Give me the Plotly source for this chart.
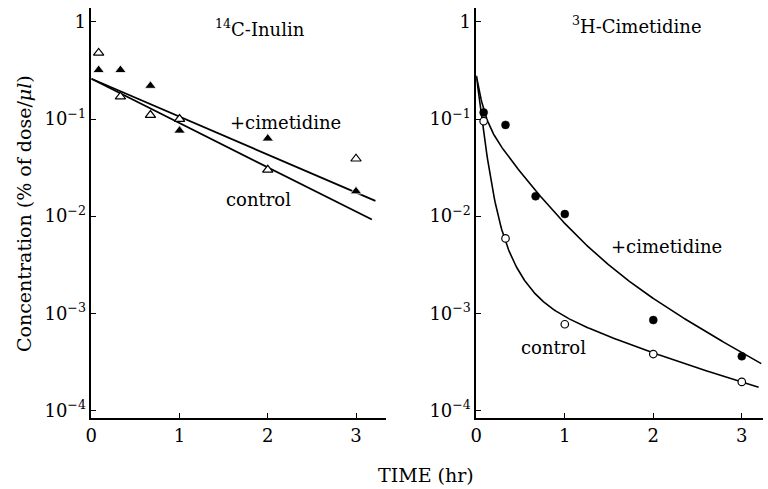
import numpy as np
import plotly.graph_objects as go

# ---- data: plasma concentration (% of dose / ul) vs time (hr) ----
TIME_H = [0.083, 0.33, 0.67, 1.0, 2.0, 3.0]

# 14C-inulin
INU_CIM = [0.32, 0.32, 0.22, 0.076, 0.063, 0.018]
INU_CTRL = [0.48, 0.17, 0.11, 0.10, 0.030, 0.039]

# 3H-cimetidine
CIM_CIM = [0.117, 0.087, 0.016, 0.0105, 0.00085, 0.00036]
CIM_CTRL_T = [0.083, 0.33, 1.0, 2.0, 3.0]
CIM_CTRL = [0.095, 0.0059, 0.00077, 0.00038, 0.000196]

# fitted curves: C(t) = sum(A_i * exp(-k_i * t))
INU_CIM_A, INU_CIM_K = [0.26], [0.90]
INU_CTRL_A, INU_CTRL_K = [0.26], [1.05]
CIM_CIM_A, CIM_CIM_K = [0.166, 0.1016, 0.0121], [18.0, 3.1, 1.15]
CIM_CTRL_A, CIM_CTRL_K = [0.25, 0.025, 0.00133, 0.00112], [18.0, 6.3, 1.61, 0.6]

Y_TICKS = [1e-4, 1e-3, 1e-2, 1e-1, 1]
Y_TICK_TEXT = ["10<sup>−4</sup>", "10<sup>−3</sup>", "10<sup>−2</sup>", "10<sup>−1</sup>", "1"]
X_TICKS = [0, 1, 2, 3]

FONT = "DejaVu Serif"


def model(a, k, t_end):
    t = np.linspace(0, t_end, 300)
    c = np.zeros_like(t)
    for ai, ki in zip(a, k):
        c += ai * np.exp(-ki * t)
    return t, c


fig = go.Figure()

line_style = dict(color="black", width=1.6)

# left panel: inulin
t, c = model(INU_CIM_A, INU_CIM_K, 3.22)
fig.add_trace(go.Scatter(x=t, y=c, mode="lines", line=dict(color="black", width=1.8),
                         xaxis="x", yaxis="y", hoverinfo="skip"))
t, c = model(INU_CTRL_A, INU_CTRL_K, 3.18)
fig.add_trace(go.Scatter(x=t, y=c, mode="lines", line=dict(color="black", width=1.8),
                         xaxis="x", yaxis="y", hoverinfo="skip"))
fig.add_trace(go.Scatter(x=TIME_H, y=INU_CIM, mode="markers", xaxis="x", yaxis="y",
                         marker=dict(symbol="triangle-up", size=10, color="black",
                                     line=dict(color="white", width=0.8))))
fig.add_trace(go.Scatter(x=TIME_H, y=INU_CTRL, mode="markers", xaxis="x", yaxis="y",
                         marker=dict(symbol="triangle-up", size=9, color="white",
                                     line=dict(color="black", width=1.2))))

# right panel: cimetidine
t, c = model(CIM_CIM_A, CIM_CIM_K, 3.22)
fig.add_trace(go.Scatter(x=t, y=c, mode="lines", line=line_style,
                         xaxis="x2", yaxis="y2", hoverinfo="skip"))
t, c = model(CIM_CTRL_A, CIM_CTRL_K, 3.19)
fig.add_trace(go.Scatter(x=t, y=c, mode="lines", line=line_style,
                         xaxis="x2", yaxis="y2", hoverinfo="skip"))
fig.add_trace(go.Scatter(x=TIME_H, y=CIM_CIM, mode="markers", xaxis="x2", yaxis="y2",
                         marker=dict(symbol="circle", size=8, color="black",
                                     line=dict(color="black", width=0.5))))
fig.add_trace(go.Scatter(x=CIM_CTRL_T, y=CIM_CTRL, mode="markers", xaxis="x2", yaxis="y2",
                         marker=dict(symbol="circle", size=7.5, color="white",
                                     line=dict(color="black", width=1.2))))

y_bottom = 69 / 489
y_top = 481 / 489

xaxis_common = dict(
    showline=True, linecolor="black", linewidth=1.6, mirror=False,
    showgrid=False, zeroline=False,
    ticks="inside", ticklen=5, tickwidth=1.2, tickcolor="black",
    tickvals=X_TICKS, ticktext=[str(v) for v in X_TICKS],
    tickfont=dict(family=FONT, size=18, color="black"),
)
yaxis_common = dict(
    type="log", range=[-4.082, 0.144],
    showline=True, linecolor="black", linewidth=1.6, mirror=False,
    showgrid=False, zeroline=False,
    ticks="inside", ticklen=5, tickwidth=1.2, tickcolor="black",
    tickvals=Y_TICKS, ticktext=Y_TICK_TEXT,
    tickfont=dict(family=FONT, size=18, color="black"),
    domain=[y_bottom, y_top],
)

fig.update_layout(
    width=768, height=489,
    margin=dict(l=0, r=0, t=0, b=0),
    paper_bgcolor="white", plot_bgcolor="white",
    showlegend=False,
    font=dict(family=FONT, color="black"),
    xaxis=dict(xaxis_common, domain=[86 / 768, 383 / 768], range=[0, 3.34], anchor="y"),
    yaxis=dict(yaxis_common, anchor="x"),
    xaxis2=dict(xaxis_common, domain=[474 / 768, 763 / 768], range=[0, 3.24], anchor="y2"),
    yaxis2=dict(yaxis_common, anchor="x2"),
)

ann = [
    dict(text="<sup>14</sup>C-Inulin", x=256 / 768, y=1 - 28 / 489),
    dict(text="<sup>3</sup>H-Cimetidine", x=636 / 768, y=1 - 25 / 489),
    dict(text="+cimetidine", x=282 / 768, y=1 - 123 / 489),
    dict(text="control", x=254 / 768, y=1 - 200 / 489),
    dict(text="+cimetidine", x=666 / 768, y=1 - 248 / 489),
    dict(text="control", x=552 / 768, y=1 - 349 / 489),
    dict(text="TIME (hr)", x=423 / 768, y=1 - 477 / 489, size=19),
]
for a in ann:
    fig.add_annotation(
        text=a["text"], x=a["x"], y=a["y"], xref="paper", yref="paper",
        xanchor="center", yanchor="middle", showarrow=False,
        font=dict(family=FONT, size=a.get("size", 18), color="black"),
    )

fig.add_annotation(
    text="Concentration (% of dose/<i>μl</i>)", x=18 / 768, y=1 - 214 / 489,
    xref="paper", yref="paper", xanchor="center", yanchor="middle",
    showarrow=False, textangle=-90,
    font=dict(family=FONT, size=19, color="black"),
)

fig.write_html("out.html")
